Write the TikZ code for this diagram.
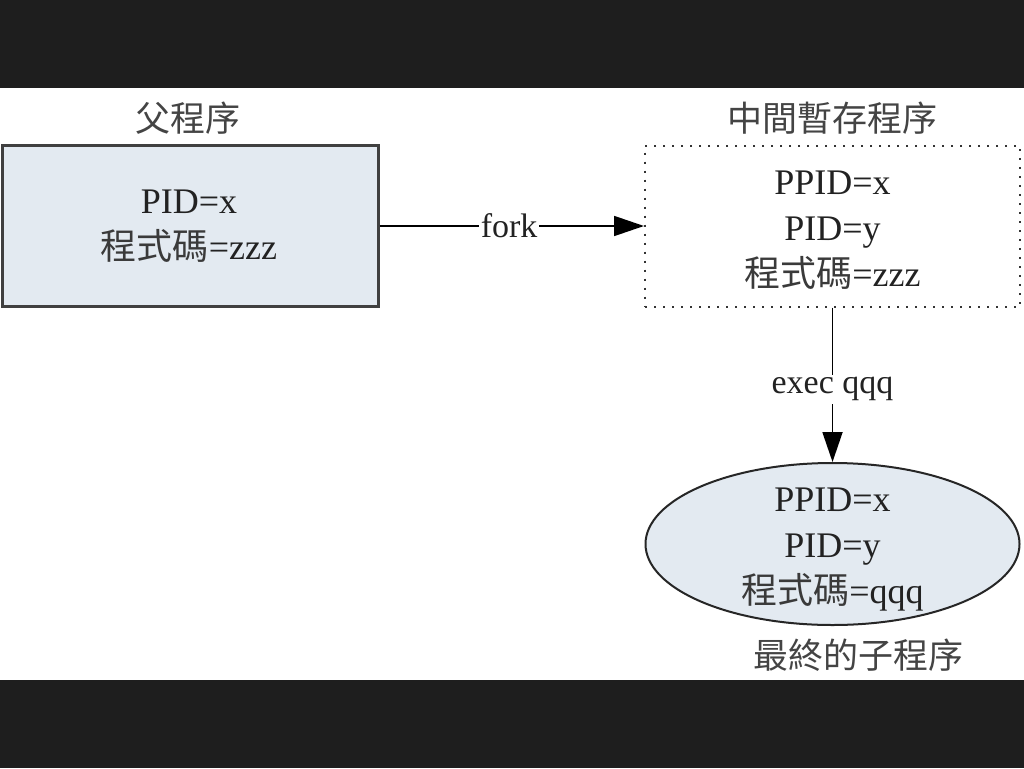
\documentclass[tikz,border=0pt]{standalone}
\usepackage{fontspec}
\setmainfont{Liberation Serif}
\newfontfamily\cjk{Noto Sans CJK TC}
\usetikzlibrary{shapes.geometric,arrows.meta}
\definecolor{band}{HTML}{1E1E1E}
\definecolor{boxfill}{HTML}{E3EAF1}
\definecolor{txt}{HTML}{222222}
\definecolor{lbl}{HTML}{444444}
\definecolor{cjktxt}{HTML}{3A3A3A}
\newcommand{\cj}[1]{{\cjk\color{cjktxt}#1}}
\tikzset{
  body/.style={font=\fontsize{36}{46}\selectfont, text=txt, align=center},
  title/.style={font=\fontsize{35}{40}\selectfont\cjk, text=lbl},
  conn/.style={draw=black, line width=1.8pt, -{Triangle[length=30pt,width=20pt]}},
  edgelbl/.style={font=\fontsize{34}{40}\selectfont, text=txt, fill=white, inner sep=2pt}
}
\begin{document}
\begin{tikzpicture}[x=1pt,y=-1pt]
\useasboundingbox (0,0) rectangle (1024,768);
\fill[band] (0,0) rectangle (1024,88);
\fill[band] (0,680) rectangle (1024,768);
\fill[white] (0,88) rectangle (1024,680);
% parent box
\node[draw=black!75, line width=3pt, fill=boxfill, minimum width=376pt, minimum height=161pt, inner sep=0pt] (parent) at (190,226) {};
\node[body] (ptext) at (189,226) {PID=x\\\cj{程式碼}=zzz};
\node[title] (ptitle) at (188,118) {父程序};
% intermediate dotted box
\node[draw=black!80, line width=2pt, dash pattern=on 2pt off 7pt, minimum width=375pt, minimum height=161pt, inner sep=0pt] (mid) at (832.5,226) {};
\node[body] (mtext) at (832.5,230) {PPID=x\\PID=y\\\cj{程式碼}=zzz};
\node[title] (mtitle) at (832,118) {中間暫存程序};
% final ellipse
\node[ellipse, draw=black!85, line width=2pt, fill=boxfill, minimum width=374pt, minimum height=162pt, inner sep=0pt] (child) at (832.5,544) {};
\node[body] (ctext) at (832.5,550) {PPID=x\\PID=y\\\cj{程式碼}=qqq};
\node[title] (ctitle) at (858,655) {最終的子程序};
% connectors
\draw[conn] (parent.east) -- (mid.west) node[edgelbl, pos=0.49] (fork) {fork};
\draw[conn] (mid.south) -- (child.north) node[edgelbl, pos=0.53, inner ysep=3pt] (exec) {exec qqq};
\end{tikzpicture}
\end{document}
